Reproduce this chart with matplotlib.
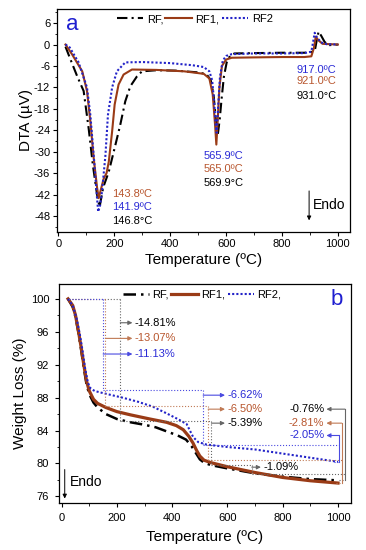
import numpy as np
import matplotlib
matplotlib.use("Agg")
import matplotlib.pyplot as plt
from matplotlib.ticker import MultipleLocator

plt.rcParams['font.family'] = ['Liberation Sans', 'DejaVu Sans']
plt.rcParams['axes.unicode_minus'] = False

# colours
c_rf = 'black'
c_rf1 = '#9a3b16'
c_rf2 = '#2323c8'
t_rf1 = '#b8562e'
t_rf2 = '#2b2bd6'

# ---- DTA data (panel a) ----
dta_rf_T = [25, 43, 67, 90, 108, 123, 138, 147, 160, 180, 204, 221, 239, 257, 281, 299, 350, 420, 500, 530,
            545, 555, 563, 570, 577, 584, 592, 602, 615, 630, 700, 800, 880, 905, 918, 925, 931, 940, 952, 965, 1000]
dta_rf = [-0.6, -4.2, -8.9, -13, -23.5, -33.7, -42, -45.5, -40, -35.6, -28, -22.5, -15.9, -11.7, -8.9, -7.5, -7.2, -7.3, -7.8, -8.3,
          -10, -14, -21, -25.3, -21, -15, -9, -5, -3, -2.5, -2.4, -2.3, -2.3, -2.1, -1.5, 1.5, 3.6, 2.5, 0.8, -0.2, 0]

dta_rf1_T = [25, 49, 85, 102, 114, 126, 138, 144, 152, 162, 172, 180, 192, 201, 215, 233, 263, 350, 450, 520,
             540, 552, 560, 565, 570, 576, 585, 600, 620, 700, 800, 880, 905, 914, 921, 930, 945, 1000]
dta_rf1 = [0, -2.8, -7.5, -13, -21.5, -31.8, -40, -43, -40.5, -37.5, -36, -32.8, -24.3, -16.8, -11.2, -8.4, -7.0, -7.1, -7.5, -8.2,
           -9.5, -14, -22, -28, -21, -12, -6, -4.2, -3.7, -3.6, -3.5, -3.5, -3.3, -1, 2.2, 1.2, 0.2, 0]

dta_rf2_T = [25, 40, 72, 102, 114, 126, 138, 142, 149, 156, 168, 177, 192, 209, 239, 300, 400, 480, 520, 540,
             550, 557, 562, 566, 571, 578, 588, 600, 620, 700, 800, 880, 905, 912, 917, 925, 940, 960, 1000]
dta_rf2 = [0, -0.8, -5, -12, -19.7, -31, -43, -46.8, -45, -41, -31, -19.7, -12, -7.5, -5, -4.9, -5.2, -5.8, -6.3, -7.5,
           -10, -16, -22, -24.7, -18, -9, -4.5, -3.2, -2.7, -2.5, -2.5, -2.4, -2, 1, 3.3, 2, 0.6, 0.1, 0]

# ---- TGA data (panel b) ----
tga_rf_T = [23, 40, 50, 60, 70, 80, 90, 100, 115, 130, 160, 200, 250, 300, 340, 380, 420, 450, 470, 485,
            500, 515, 540, 600, 700, 800, 900, 1000]
tga_rf = [100, 99.0, 97.8, 96.0, 93.9, 91.6, 89.6, 88.4, 87.4, 86.8, 86.0, 85.4, 85.0, 84.7, 84.4, 83.9, 83.4, 82.9, 82.1, 81.3,
          80.5, 80.1, 79.8, 79.4, 78.8, 78.4, 78.1, 77.95]

tga_rf1_T = [23, 40, 50, 60, 70, 80, 90, 100, 115, 130, 160, 200, 250, 320, 380, 415, 440, 460, 475, 488,
             500, 515, 540, 600, 700, 800, 900, 1000]
tga_rf1 = [100, 99.2, 98.0, 96.2, 94.2, 92.0, 90.0, 88.8, 87.8, 87.3, 86.8, 86.3, 85.9, 85.4, 85.0, 84.6, 84.1, 83.3, 82.5, 81.6,
           80.9, 80.4, 80.1, 79.6, 78.9, 78.3, 77.9, 77.62]

tga_rf2_T = [23, 40, 55, 65, 75, 85, 95, 105, 120, 156, 220, 276, 330, 379, 420, 452, 476, 494, 524, 600,
             700, 800, 900, 1000]
tga_rf2 = [100, 99.2, 97.5, 95.8, 93.8, 91.5, 89.8, 89.1, 88.8, 88.5, 88.0, 87.5, 86.9, 86.1, 85.4, 84.8, 83.2, 82.6, 82.3, 82.0,
           81.7, 81.2, 80.7, 80.2]

# weight-loss steps (%) and where their guide lines stand
rf_steps = [14.81, 5.39, 1.09, 0.76]
rf_step_T = [212, 542, 688, 1025]
rf1_steps = [13.07, 6.50, 2.81]
rf1_step_T = [158, 530, 1013]
rf2_steps = [11.13, 6.62, 2.05]
rf2_step_T = [150, 512, 1005]

fig = plt.figure(figsize=(3.66, 5.5), dpi=100)

# ================= panel a =================
ax1 = fig.add_axes([0.156, 0.578, 0.800, 0.406])
ax1.plot(dta_rf_T, dta_rf, color=c_rf, ls=(0, (5, 2, 1, 2)), lw=1.5, label='RF,')
ax1.plot(dta_rf1_T, dta_rf1, color=c_rf1, ls='-', lw=1.5, label='RF1,')
ax1.plot(dta_rf2_T, dta_rf2, color=c_rf2, ls=(0, (1, 1)), lw=1.5, label='RF2')
ax1.set_xlim(-5, 1043)
ax1.set_ylim(-52.5, 10)
ax1.yaxis.set_minor_locator(MultipleLocator(3))
ax1.xaxis.set_major_locator(MultipleLocator(200))
ax1.xaxis.set_minor_locator(MultipleLocator(100))
ax1.set_yticks([6, 0, -6, -12, -18, -24, -30, -36, -42, -48])
ax1.set_xlabel('Temperature (ºC)', fontsize=11, labelpad=3)
ax1.set_ylabel('DTA (µV)', fontsize=11, labelpad=1)
ax1.legend(loc='upper center', bbox_to_anchor=(0.47, 1.02), ncol=3, frameon=False, fontsize=8,
           handlelength=2.4, columnspacing=0.2, handletextpad=0.3)
ax1.text(0.03, 0.93, 'a', transform=ax1.transAxes, color='#1f1fd0', fontsize=16, va='center')

ax1.text(995, -7.2, '917.0ºC', color=t_rf2, fontsize=8, ha='right', va='center')
ax1.text(995, -10.1, '921.0ºC', color=t_rf1, fontsize=8, ha='right', va='center')
ax1.text(995, -14.3, '931.0°C', color=c_rf, fontsize=8, ha='right', va='center')
ax1.text(518, -31.2, '565.9ºC', color=t_rf2, fontsize=8, va='center')
ax1.text(518, -34.9, '565.0ºC', color=t_rf1, fontsize=8, va='center')
ax1.text(518, -38.7, '569.9°C', color=c_rf, fontsize=8, va='center')
ax1.text(192, -41.9, '143.8ºC', color=t_rf1, fontsize=8, va='center')
ax1.text(192, -45.6, '141.9ºC', color=t_rf2, fontsize=8, va='center')
ax1.text(192, -49.4, '146.8°C', color=c_rf, fontsize=8, va='center')
ax1.annotate('', xy=(897, -50), xytext=(897, -40.2),
             arrowprops=dict(arrowstyle='-|>', color='black', lw=0.7, mutation_scale=6))
ax1.text(911, -45, 'Endo', fontsize=10, va='center')

# ================= panel b =================
ax2 = fig.add_axes([0.161, 0.0855, 0.798, 0.398])
ax2.plot(tga_rf_T, tga_rf, color=c_rf, ls=(0, (5, 2, 1, 2)), lw=1.8, label='RF,')
ax2.plot(tga_rf1_T, tga_rf1, color=c_rf1, ls='-', lw=2.3, label='RF1,')
ax2.plot(tga_rf2_T, tga_rf2, color=c_rf2, ls=(0, (1, 1)), lw=1.5, label='RF2,')
ax2.set_xlim(-10, 1047)
ax2.set_ylim(75.2, 101.8)
ax2.yaxis.set_major_locator(MultipleLocator(4))
ax2.yaxis.set_minor_locator(MultipleLocator(2))
ax2.xaxis.set_major_locator(MultipleLocator(200))
ax2.xaxis.set_minor_locator(MultipleLocator(100))
ax2.set_xlabel('Temperature (ºC)', fontsize=11, labelpad=5)
ax2.set_ylabel('Weight Loss (%)', fontsize=11, labelpad=3)
ax2.legend(loc='upper center', bbox_to_anchor=(0.49, 1.02), ncol=3, frameon=False, fontsize=8,
           handlelength=2.4, columnspacing=0.2, handletextpad=0.3)
ax2.text(0.93, 0.93, 'b', transform=ax2.transAxes, color='#1f1fd0', fontsize=16, va='center')


def guides(ax, steps, step_T, line_col, txt_col, arrow_y, text_x, sides):
    level = 100.0
    x_prev = 25
    for i, (s, xv) in enumerate(zip(steps, step_T)):
        new = level - s
        ax.plot([x_prev, xv], [level, level], color=line_col, ls=':', lw=0.8)
        top = max(level, arrow_y[i])
        ax.plot([xv, xv], [top, new], color=line_col, ls=':' if sides[i] == 'r' else '-', lw=0.8)
        if sides[i] == 'r':
            ax.annotate('', xy=(text_x[i] - 8, arrow_y[i]), xytext=(xv, arrow_y[i]),
                        arrowprops=dict(arrowstyle='-|>', color=line_col, lw=0.8, mutation_scale=6,
                                        shrinkA=0, shrinkB=0))
            ax.text(text_x[i], arrow_y[i], '-%.2f%%' % s, color=txt_col, fontsize=8, va='center')
        else:
            ax.plot([xv - 20, xv], [new, new], color=line_col, ls=':', lw=0.8)
            ax.annotate('', xy=(text_x[i] + 8, arrow_y[i]), xytext=(xv, arrow_y[i]),
                        arrowprops=dict(arrowstyle='-|>', color=line_col, lw=0.8, mutation_scale=6,
                                        shrinkA=0, shrinkB=0))
            ax.text(text_x[i], arrow_y[i], '-%.2f%%' % s, color=txt_col, fontsize=8, va='center', ha='right')
        level = new
        x_prev = xv


guides(ax2, rf_steps, rf_step_T, '#666666', c_rf, [97.1, 84.9, 79.55, 86.6], [264, 599, 729, 950],
       ['r', 'r', 'r', 'l'])
guides(ax2, rf1_steps, rf1_step_T, '#c07a55', t_rf1, [95.2, 86.6, 84.9], [264, 599, 950], ['r', 'r', 'l'])
guides(ax2, rf2_steps, rf2_step_T, '#4a4ae0', t_rf2, [93.3, 88.3, 83.4], [264, 599, 950], ['r', 'r', 'l'])

ax2.annotate('', xy=(11, 75.4), xytext=(11, 79.6),
             arrowprops=dict(arrowstyle='-|>', color='black', lw=0.7, mutation_scale=6))
ax2.text(29, 77.7, 'Endo', fontsize=10, va='center')

for ax in (ax1, ax2):
    ax.tick_params(which='major', direction='out', length=3, width=0.8, labelsize=8, pad=2)
    ax.tick_params(which='minor', direction='out', length=1.8, width=0.6)
    for sp in ax.spines.values():
        sp.set_linewidth(0.9)
ax2.tick_params(axis='x', which='major', pad=4)
ax2.tick_params(axis='y', which='major', pad=4)

fig.savefig('out.png', dpi=100)
